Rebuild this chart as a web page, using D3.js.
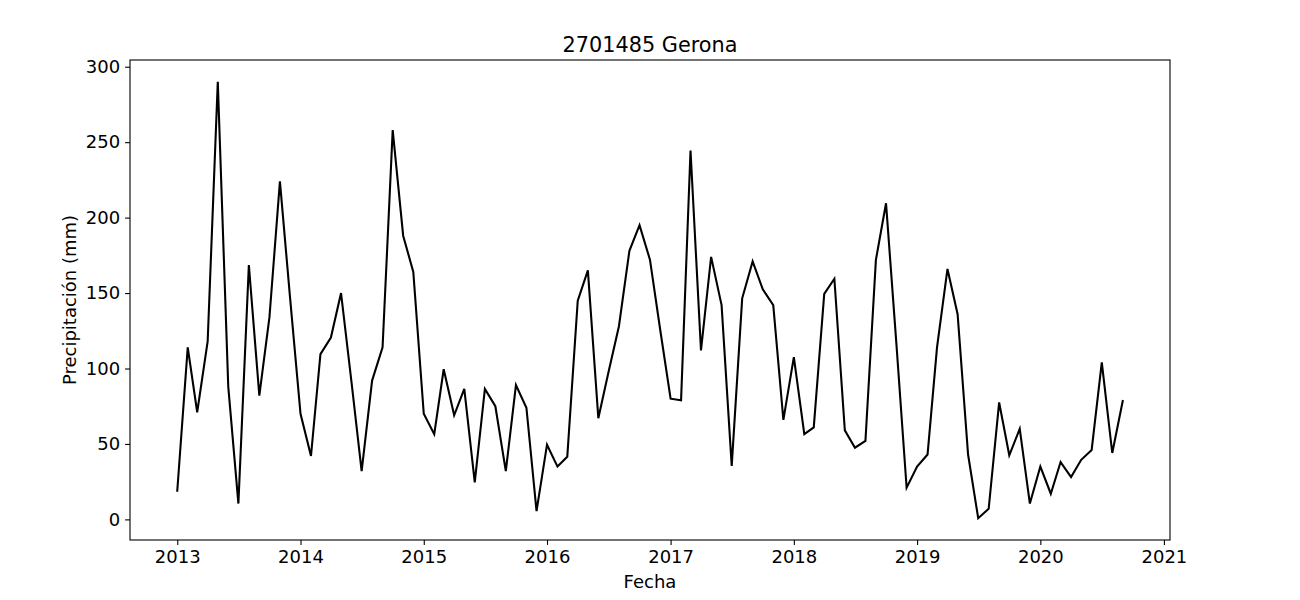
<!DOCTYPE html>
<html>
<head>
<meta charset="utf-8">
<script src="https://cdn.jsdelivr.net/npm/d3@7"></script>
<style>
  html, body { margin: 0; padding: 0; background: #fff; }
  svg { display: block; }
  text { font-family: "DejaVu Sans", sans-serif; fill: #000; }
</style>
</head>
<body>
<svg id="chart" width="1300" height="600"></svg>
<script>
// ---- data ----
const title = "2701485 Gerona";
const xLabel = "Fecha";
const yLabel = "Precipitación (mm)";
const firstMonth = "2013-01-01";
const lastMonth = "2020-09-01";
const values = [
  // 2013
  19, 114, 71, 118, 290, 88, 10.5, 168.5, 82, 134, 224, 147,
  // 2014
  70, 42, 109.5, 120.5, 150, 91, 32, 92, 114, 258, 188, 164,
  // 2015
  70, 56.5, 99.5, 69, 86.5, 24.5, 86.5, 75, 32, 89, 74, 5.5,
  // 2016
  49.5, 35, 41.5, 145, 165, 67, 97.5, 128, 178, 195, 172, 126,
  // 2017
  80, 79, 244.5, 112, 174, 142, 35.5, 146.5, 171, 152.5, 142, 66,
  // 2018
  107.5, 56.5, 61, 149.5, 159.5, 59, 47.5, 52, 172, 209.5, 115.5, 21,
  // 2019
  35, 43, 114, 166, 136, 43, 0.8, 7, 77.5, 42.5, 60, 10.5,
  // 2020
  35, 17, 38, 28, 39.5, 46, 104, 44, 78.5
];
const xTickYears = [2013, 2014, 2015, 2016, 2017, 2018, 2019, 2020, 2021];
const yTicks = [0, 50, 100, 150, 200, 250, 300];

// ---- layout ----
const svg = d3.select("#chart");
const mLeft = 130, mRight = 1170, mTop = 60, mBottom = 540;
const fs = 18;

const dates = d3.utcMonth.range(new Date(firstMonth), d3.utcMonth.offset(new Date(lastMonth), 1));
const series = dates.map((d, i) => ({ date: d, value: values[i] }));

const t0 = new Date(firstMonth).getTime(), t1 = new Date(lastMonth).getTime();
const tPad = (t1 - t0) * 0.05;
const x = d3.scaleUtc().domain([new Date(t0 - tPad), new Date(t1 + tPad)]).range([mLeft, mRight]);

const vmin = d3.min(values), vmax = d3.max(values);
const vPad = (vmax - vmin) * 0.05;
const y = d3.scaleLinear().domain([vmin - vPad, vmax + vPad]).range([mBottom, mTop]);

// line
const line = d3.line().x(d => x(d.date)).y(d => y(d.value));
svg.append("path")
  .datum(series)
  .attr("d", line)
  .attr("fill", "none")
  .attr("stroke", "#000")
  .attr("stroke-width", 2.08)
  .attr("stroke-linejoin", "miter")
  .attr("stroke-linecap", "square");

// axes
const xAxis = d3.axisBottom(x)
  .tickValues(xTickYears.map(yr => new Date(Date.UTC(yr, 0, 1))))
  .tickFormat(d3.utcFormat("%Y"))
  .tickSize(4.9).tickPadding(4.9);
const gx = svg.append("g").attr("transform", `translate(0,${mBottom})`).call(xAxis);

const yAxis = d3.axisLeft(y).tickValues(yTicks).tickFormat(d3.format("d"))
  .tickSize(4.9).tickPadding(4.9);
const gy = svg.append("g").attr("transform", `translate(${mLeft},0)`).call(yAxis);

[gx, gy].forEach(g => {
  g.select(".domain").remove();
  g.selectAll(".tick line").attr("stroke", "#000").attr("stroke-width", 1.1);
  g.selectAll(".tick text").attr("font-family", "DejaVu Sans").attr("font-size", fs).attr("fill", "#000");
});

// frame
svg.append("rect")
  .attr("x", mLeft).attr("y", mTop)
  .attr("width", mRight - mLeft).attr("height", mBottom - mTop)
  .attr("fill", "none").attr("stroke", "#000").attr("stroke-width", 1.1);

// title & labels
svg.append("text")
  .attr("x", (mLeft + mRight) / 2).attr("y", mTop - 8.3)
  .attr("text-anchor", "middle")
  .attr("font-size", 20.8)
  .text(title);

svg.append("text")
  .attr("x", (mLeft + mRight) / 2).attr("y", 588)
  .attr("text-anchor", "middle")
  .attr("font-size", fs)
  .text(xLabel);

svg.append("text")
  .attr("transform", `translate(76,${(mTop + mBottom) / 2}) rotate(-90)`)
  .attr("text-anchor", "middle")
  .attr("font-size", fs)
  .text(yLabel);
</script>
</body>
</html>
